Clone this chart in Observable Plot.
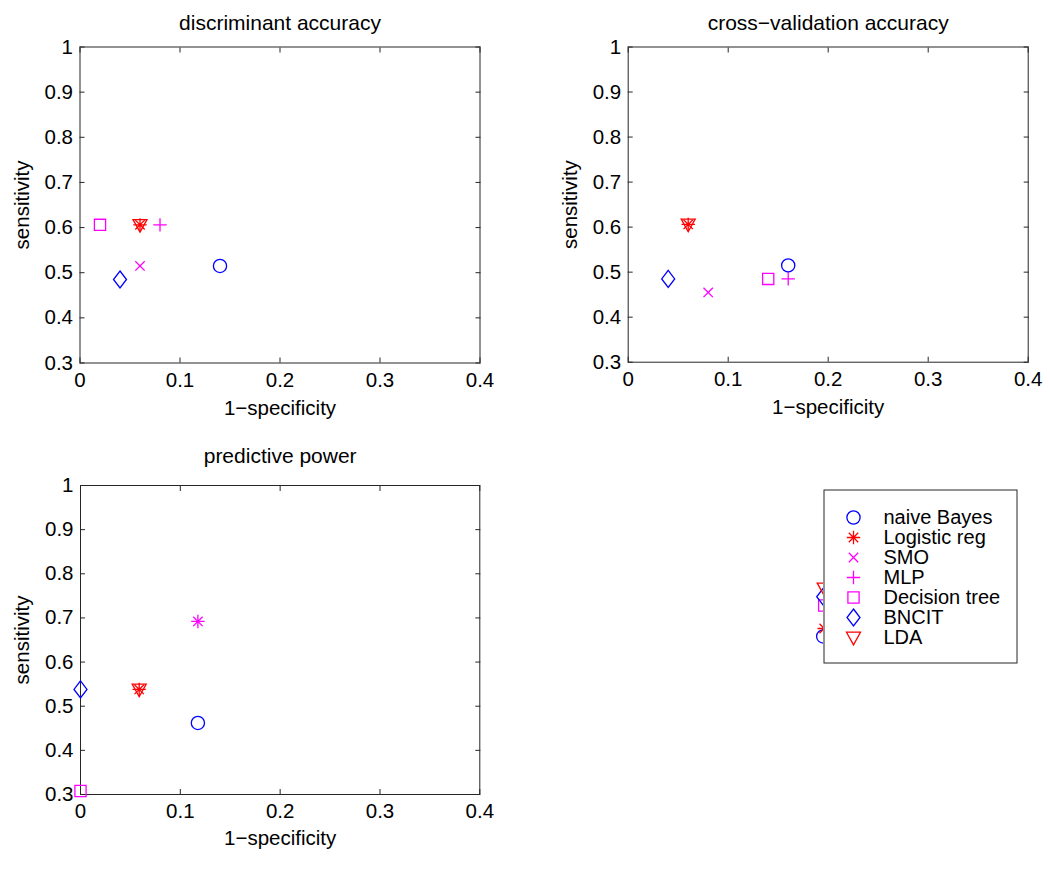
<!DOCTYPE html>
<html><head><meta charset="utf-8">
<script src="https://cdn.jsdelivr.net/npm/d3@7"></script>
<script src="https://cdn.jsdelivr.net/npm/@observablehq/plot@0.6"></script>
<style>
body{margin:0;background:#fff;}
#root{position:relative;width:1050px;height:870px;overflow:hidden;background:#fff;}
#root svg{position:absolute;}
</style></head><body><div id="root"></div>
<script>
// ---- data ----
const series = ["naive Bayes", "Logistic reg", "SMO", "MLP", "Decision tree", "BNCIT", "LDA"];
const seriesColors = ["#0000ff", "#ff0000", "#ff00ff", "#ff00ff", "#ff00ff", "#0000ff", "#ff0000"];
const seriesMarkers = ["circle", "asterisk", "times", "plus", "square", "diamond", "triangleDown"];

const discTitle = "discriminant accuracy";
const discFPR  = [0.14, 0.06, 0.06, 0.08, 0.02, 0.04, 0.06];
const discSens = [0.515, 0.606, 0.515, 0.606, 0.606, 0.485, 0.606];

const cvTitle = "cross\u2212validation accuracy";
const cvFPR  = [0.16, 0.06, 0.08, 0.16, 0.14, 0.04, 0.06];
const cvSens = [0.515, 0.606, 0.455, 0.485, 0.485, 0.485, 0.606];

const predTitle = "predictive power";
const predFPR  = [0.1176, 0.0588, 0.1176, 0.1176, 0, 0, 0.0588];
const predSens = [0.462, 0.538, 0.692, 0.692, 0.308, 0.538, 0.538];

// markers of the hidden fourth axes, mostly covered by the legend
const hiddenSeries = ["naive Bayes", "Logistic reg", "Decision tree", "BNCIT", "LDA"];
const hiddenFPR  = [0.195, 0.196, 0.196, 0.195, 0.196];
const hiddenSens = [0.658, 0.676, 0.728, 0.748, 0.767];

const xTicks = [0, 0.1, 0.2, 0.3, 0.4];
const yTicks = [0.3, 0.4, 0.5, 0.6, 0.7, 0.8, 0.9, 1];
const xLabel = "1\u2212specificity";
const yLabel = "sensitivity";

// ---- MATLAB-like marker shapes ----
const shapes = {
  circle: {draw(c){ c.moveTo(6.6,0); c.arc(0,0,6.6,0,2*Math.PI); c.closePath(); }},
  square: {draw(c){ c.moveTo(-5.6,-5.6); c.lineTo(5.6,-5.6); c.lineTo(5.6,5.6); c.lineTo(-5.6,5.6); c.closePath(); }},
  diamond: {draw(c){ c.moveTo(0,-8.5); c.lineTo(6.5,0); c.lineTo(0,8.5); c.lineTo(-6.5,0); c.closePath(); }},
  triangleDown: {draw(c){ c.moveTo(-7,-5.3); c.lineTo(7,-5.3); c.lineTo(0,7.3); c.closePath(); }},
  plus: {draw(c){ c.moveTo(-6.7,0); c.lineTo(6.7,0); c.moveTo(0,-6.7); c.lineTo(0,6.7); }},
  times: {draw(c){ c.moveTo(-4.7,-4.7); c.lineTo(4.7,4.7); c.moveTo(-4.7,4.7); c.lineTo(4.7,-4.7); }},
  asterisk: {draw(c){ c.moveTo(-6.7,0); c.lineTo(6.7,0); c.moveTo(0,-6.7); c.lineTo(0,6.7);
                      c.moveTo(-4.7,-4.7); c.lineTo(4.7,4.7); c.moveTo(-4.7,4.7); c.lineTo(4.7,-4.7); }}
};
const idx = s => series.indexOf(s);

const FONT = "'Liberation Sans', Arial, Helvetica, sans-serif";
const AX = "#262626";
const TICKFS = 20.5;
const root = document.getElementById("root");

function place(svg, left, top) {
  svg.style.left = left + "px";
  svg.style.top = top + "px";
  svg.style.overflow = "visible";
  root.appendChild(svg);
}

function panel(o) {
  const data = series.map((s, i) => ({s, x: o.fpr[i], y: o.sens[i]}));
  const svg = Plot.plot({
    width: o.width, height: o.height,
    marginLeft: o.mL, marginRight: o.mR, marginTop: o.mT, marginBottom: o.mB,
    style: {fontFamily: FONT, fontSize: TICKFS + "px", color: "#000", background: "transparent"},
    x: {domain: [0, 0.4], axis: null},
    y: {domain: [0.3, 1], axis: null},
    marks: [
      Plot.frame({stroke: AX, strokeWidth: 1}),
      // inward ticks on all four sides
      Plot.axisX({anchor: "bottom", ticks: xTicks, tickSize: 5, dy: -5, tickFormat: () => "", label: null, stroke: AX}),
      Plot.axisX({anchor: "top", ticks: xTicks, tickSize: 5, dy: 5, tickFormat: () => "", label: null, stroke: AX}),
      Plot.axisY({anchor: "left", ticks: yTicks, tickSize: 5, dx: 5, tickFormat: () => "", label: null, stroke: AX}),
      Plot.axisY({anchor: "right", ticks: yTicks, tickSize: 5, dx: -5, tickFormat: () => "", label: null, stroke: AX}),
      // tick labels
      Plot.axisX({anchor: "bottom", ticks: xTicks, tickSize: 0, tickPadding: 9, tickFormat: d => String(d), label: null, fontSize: TICKFS, fill: "#000"}),
      Plot.axisY({anchor: "left", ticks: yTicks, tickSize: 0, tickPadding: 7, tickFormat: d => String(d), label: null, fontSize: TICKFS, fill: "#000"}),
      // title and axis labels
      Plot.text([o.title], {frameAnchor: "top", textAnchor: "middle", lineAnchor: "bottom", dy: o.titleDy, fontSize: 21, fill: "#000"}),
      Plot.text([xLabel], {frameAnchor: "bottom", textAnchor: "middle", lineAnchor: "bottom", dy: o.xlabDy, fontSize: 20.5, fill: "#000"}),
      Plot.text([yLabel], {frameAnchor: "left", textAnchor: "middle", lineAnchor: "bottom", rotate: -90, dx: -51.5, fontSize: 20.5, fill: "#000"}),
      // data markers
      ...data.map((d, i) => Plot.dot([d], {
        x: "x", y: "y", symbol: shapes[seriesMarkers[i]], r: 6,
        fill: "none", stroke: seriesColors[i], strokeWidth: 1.3
      }))
    ]
  });
  place(svg, o.left, o.top);
}

panel({title: discTitle, fpr: discFPR, sens: discSens, left: 0, top: 0, width: 520, height: 420,
       mL: 79.5, mR: 40.5, mT: 46.5, mB: 57.5, titleDy: -17, xlabDy: 51.5});
panel({title: cvTitle, fpr: cvFPR, sens: cvSens, left: 548, top: 0, width: 500, height: 420,
       mL: 79.7, mR: 20.3, mT: 46.5, mB: 58.3, titleDy: -17, xlabDy: 51.5});
panel({title: predTitle, fpr: predFPR, sens: predSens, left: 0, top: 420, width: 520, height: 440,
       mL: 80, mR: 40.7, mT: 65, mB: 66, titleDy: -23, xlabDy: 50});

// hidden fourth axes (only its markers peek out from behind the legend)
{
  const hidden = hiddenSeries.map((s, i) => ({s, x: hiddenFPR[i], y: hiddenSens[i]}));
  const svg = Plot.plot({
    width: 500, height: 440, marginLeft: 79.7, marginRight: 20.3, marginTop: 65, marginBottom: 66,
    style: {background: "transparent"},
    x: {domain: [0, 0.4], axis: null},
    y: {domain: [0.3, 1], axis: null},
    marks: hidden.map(d => Plot.dot([d], {
      x: "x", y: "y", symbol: shapes[seriesMarkers[idx(d.s)]], r: 6,
      fill: "none", stroke: seriesColors[idx(d.s)], strokeWidth: 1.3
    }))
  });
  place(svg, 548, 420);
}

// legend
{
  const svg = Plot.plot({
    width: 194, height: 174, margin: 0,
    style: {fontFamily: FONT, background: "#fff"},
    x: {type: "identity", axis: null},
    y: {type: "point", domain: series, range: [14.7, 161.4], axis: null},
    marks: [
      Plot.frame({stroke: AX, strokeWidth: 1, inset: 0.5}),
      ...series.map((s, i) => Plot.dot([s], {
        x: 30, y: d => d, symbol: shapes[seriesMarkers[i]], r: 6,
        fill: "none", stroke: seriesColors[i], strokeWidth: 1.3
      })),
      Plot.text(series, {x: 60, y: d => d, text: d => d, textAnchor: "start", fontSize: 20, fill: "#000"})
    ]
  });
  place(svg, 823.3, 489.3);
}
</script></body></html>
